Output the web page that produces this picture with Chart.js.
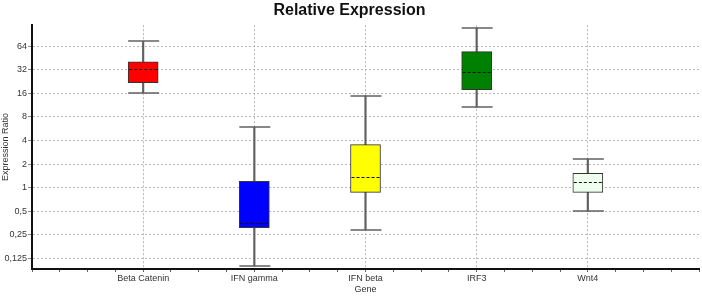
<!DOCTYPE html>
<html>
<head>
<meta charset="utf-8">
<script src="https://cdn.jsdelivr.net/npm/chart.js@4"></script>
<style>
  body { margin: 0; background: #fff; }
  #wrap { width: 702px; height: 297px; }
</style>
</head>
<body>
<div id="wrap"><canvas id="exprChart"></canvas></div>
<script>
const genes = ["Beta Catenin", "IFN gamma", "IFN beta", "IRF3", "Wnt4"];
const whiskerMin = [16.3, 0.101, 0.29, 10.7, 0.5];
const q1 = [22.0, 0.309, 0.87, 17.8, 0.87];
const median = [33.2, 0.35, 1.38, 29.6, 1.18];
const q3 = [40.5, 1.2, 3.54, 54.8, 1.52];
const whiskerMax = [74.3, 5.88, 14.9, 110, 2.32];
const boxColors = ["#ff0000", "#0000ff", "#ffff00", "#008000", "#eeffee"];
const yTicks = [0.125, 0.25, 0.5, 1, 2, 4, 8, 16, 32, 64];

// caps + dashed median, drawn with the chart's own scales
const boxExtras = {
  id: "boxExtras",
  afterDatasetsDraw(chart) {
    const ctx = chart.ctx;
    const y = chart.scales.y;
    const boxes = chart.getDatasetMeta(1).data;
    ctx.save();
    boxes.forEach((bar, i) => {
      const left = bar.x - bar.width / 2;
      const right = bar.x + bar.width / 2;
      ctx.strokeStyle = "#606060";
      ctx.lineWidth = 1.5;
      ctx.setLineDash([]);
      [whiskerMin[i], whiskerMax[i]].forEach((v) => {
        const py = Math.round(y.getPixelForValue(v));
        ctx.beginPath();
        ctx.moveTo(left, py);
        ctx.lineTo(right + 1, py);
        ctx.stroke();
      });
      const my = Math.round(y.getPixelForValue(median[i])) + 0.5;
      ctx.strokeStyle = "#111";
      ctx.lineWidth = 1;
      ctx.setLineDash([3, 2]);
      ctx.beginPath();
      ctx.moveTo(left + 1, my);
      ctx.lineTo(right - 1, my);
      ctx.stroke();
    });
    ctx.restore();
  },
};

const tickFont = { family: "Liberation Sans, Arial, sans-serif", size: 9 };

new Chart(document.getElementById("exprChart"), {
  type: "bar",
  data: {
    datasets: [
      {
        label: "whisker",
        data: genes.map((g, i) => ({ x: i + 1, y: [whiskerMin[i], whiskerMax[i]] })),
        backgroundColor: "#606060",
        barThickness: 1.5,
        grouped: false,
        order: 2,
      },
      {
        label: "box",
        data: genes.map((g, i) => ({ x: i + 1, y: [q1[i], q3[i]] })),
        backgroundColor: boxColors,
        borderColor: "#333",
        borderWidth: 1,
        borderSkipped: false,
        barThickness: 30,
        grouped: false,
        order: 1,
      },
    ],
  },
  options: {
    responsive: true,
    maintainAspectRatio: false,
    animation: false,
    layout: { padding: { right: 3 } },
    plugins: {
      legend: { display: false },
      tooltip: { enabled: false },
      title: {
        display: true,
        text: "Relative Expression",
        color: "#111",
        font: { family: "Liberation Sans, Arial, sans-serif", size: 16, weight: "bold" },
        padding: { top: 1, bottom: 5 },
      },
    },
    scales: {
      x: {
        type: "linear",
        min: 0,
        max: 6,
        offset: false,
        afterFit: (scale) => {
          scale.height = 28;
        },
        ticks: {
          stepSize: 0.25,
          autoSkip: false,
          maxRotation: 0,
          padding: 1,
          color: "#333",
          font: tickFont,
          callback: function (value) {
            if (Number.isInteger(value) && value >= 1 && value <= 5) {
              return genes[value - 1];
            }
            return "";
          },
        },
        grid: {
          offset: false,
          color: (ctx) => {
            const v = ctx.tick ? ctx.tick.value : 0;
            return Number.isInteger(v) && v >= 1 && v <= 5 ? "#b8b8b8" : "transparent";
          },
          tickColor: "#666",
          tickLength: 3,
        },
        border: { display: true, color: "#111", width: 2, dash: [2, 2] },
        title: {
          display: true,
          text: "Gene",
          color: "#333",
          font: tickFont,
          padding: { top: 0, bottom: 2 },
        },
      },
      y: {
        type: "logarithmic",
        min: 0.0913,
        max: 119,
        afterFit: (scale) => {
          scale.width = 32;
        },
        afterBuildTicks: (scale) => {
          scale.ticks = yTicks.map((v) => ({ value: v }));
        },
        ticks: {
          padding: 1,
          color: "#333",
          font: tickFont,
          callback: (value) => String(value).replace(".", ","),
        },
        grid: {
          color: "#b8b8b8",
          tickColor: "#888",
          tickLength: 4,
        },
        border: { display: true, color: "#111", width: 2, dash: [2, 2] },
        title: {
          display: true,
          text: "Expression Ratio",
          color: "#333",
          font: tickFont,
          padding: { top: 0, bottom: 0 },
        },
      },
    },
  },
  plugins: [boxExtras],
});
</script>
</body>
</html>
